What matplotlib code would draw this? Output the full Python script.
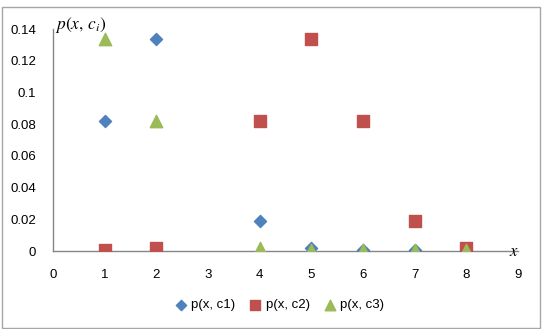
import matplotlib
matplotlib.use("Agg")
import matplotlib.pyplot as plt
from matplotlib.patches import Rectangle

# data
x_c1 = [1, 2, 4, 5, 6, 7]
p_c1 = [0.082, 0.134, 0.019, 0.002, 0.0005, 0.0005]
x_c2 = [1, 2, 4, 5, 6, 7, 8]
p_c2 = [0.0005, 0.002, 0.082, 0.134, 0.082, 0.019, 0.002]
x_c3 = [1, 2, 4, 5, 6, 7, 8]
p_c3 = [0.134, 0.082, 0.002, 0.0005, 0.0005, 0.0005, 0.0005]
labels = ["p(x, c1)", "p(x, c2)", "p(x, c3)"]

xticks = list(range(0, 10))
yticks = [0, 0.02, 0.04, 0.06, 0.08, 0.1, 0.12, 0.14]
ytick_labels = ["0", "0.02", "0.04", "0.06", "0.08", "0.1", "0.12", "0.14"]

plt.rcParams['font.family'] = ['Liberation Sans', 'DejaVu Sans']
plt.rcParams['mathtext.fontset'] = 'stix'

fig = plt.figure(figsize=(5.44, 3.29), dpi=100)
# outer chart border
fig.patches.append(Rectangle((2 / 544, 0.003), 538 / 544, 1 - 7 / 329 - 0.003,
                             transform=fig.transFigure, fill=False,
                             edgecolor='#a6a6a6', linewidth=1.0))

ax = fig.add_axes([53 / 544, 1 - 251 / 329, 465 / 544, 222 / 329])
ax.scatter(x_c1, p_c1, marker='D', s=38, color='#4F81BD', label=labels[0], zorder=3)
ax.scatter(x_c2, p_c2, marker='s', s=70, color='#C0504D', label=labels[1], zorder=3)
ax.scatter(x_c3, p_c3, marker='^', s=80, color='#9BBB59', label=labels[2], zorder=4)

ax.set_xlim(0, 9)
ax.set_ylim(0, 0.14)
ax.set_xticks(xticks)
ax.set_yticks(yticks)
ax.set_yticklabels(ytick_labels)
ax.tick_params(axis='y', length=0, labelsize=9.5, pad=12)
ax.tick_params(axis='x', length=0, labelsize=9.5, pad=13)
for s in ['top', 'right']:
    ax.spines[s].set_visible(False)
for s in ['left', 'bottom']:
    ax.spines[s].set_color('#868686')
    ax.spines[s].set_linewidth(1.0)
ax.patch.set_alpha(0)

ax.text(0.005, 1.02, r'$p(x,\,c_i)$', transform=ax.transAxes, fontsize=12.5,
        ha='left', va='center')
ax.text(8.92, 0.0, r'$x$', fontsize=12, ha='center', va='center')

fig.legend(loc='center', bbox_to_anchor=(276 / 544, 1 - 305 / 329), ncol=3,
           frameon=False, fontsize=9.5, handletextpad=-0.2, columnspacing=0.5,
           markerscale=0.85, borderaxespad=0)

fig.savefig("out.png", dpi=100)
